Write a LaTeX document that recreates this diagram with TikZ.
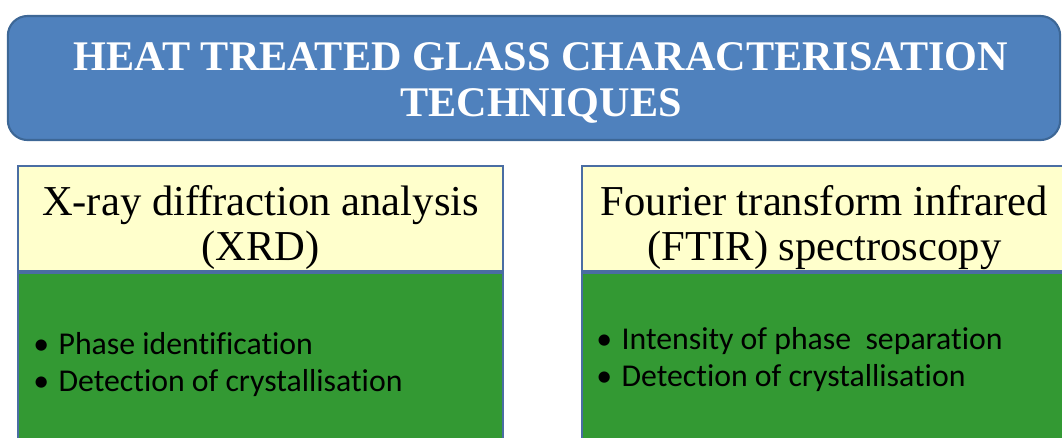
\documentclass[tikz,border=0pt]{standalone}
\usepackage{fontspec}
\setmainfont{Liberation Serif}
\newfontfamily\listfont[Ligatures=CommonOff]{Carlito}
\usetikzlibrary{positioning}

\definecolor{bannerblue}{HTML}{4F81BD}
\definecolor{bannerline}{HTML}{3D6796}
\definecolor{boxline}{HTML}{4A6DA3}
\definecolor{headfill}{HTML}{FFFFCC}
\definecolor{listfill}{HTML}{339933}

\begin{document}
\begin{tikzpicture}[x=0.025cm, y=-0.025cm,
  banner/.style={draw=bannerline, line width=1.5pt, fill=bannerblue, rounded corners=14pt,
    minimum width=26.3cm, minimum height=3.1cm},
  bannertext/.style={text=white, align=center, inner sep=0pt,
    font=\fontsize{30}{33}\selectfont\bfseries},
  headbox/.style={draw=boxline, line width=1.5pt, fill=headfill, inner sep=0pt,
    minimum width=12.125cm, minimum height=2.625cm},
  headtext/.style={align=center, inner sep=0pt, font=\fontsize{30.3}{32}\selectfont},
  listbox/.style={draw=boxline, line width=1.5pt, fill=listfill, inner sep=0pt,
    minimum width=12.125cm, minimum height=4.6cm},
  items/.style={inner sep=0pt, align=left, font=\listfont\fontsize{22.6}{26.2}\selectfont}]

  \useasboundingbox (0,0) rectangle (1062,437);
  \clip (0,0) rectangle (1062,437);

  % title banner
  \node[banner] (title) at (534,78) {};
  \node[bannertext] (titletext) at (541,83) {HEAT TREATED GLASS CHARACTERISATION\\TECHNIQUES};

  % XRD
  \node[listbox, anchor=north] (xrdlist) at (260.5,272) {};
  \node[headbox, above=0pt of xrdlist] (xrdhead) {};
  \node[headtext] (xrdtitle) at (260.5,227.5) {X-ray diffraction analysis\\(XRD)};
  \node[items, anchor=base west] (xrditems) at (33,391)
    {\makebox[18pt][l]{\textbullet}Phase identification\\
     \makebox[18pt][l]{\textbullet}Detection of crystallisation};

  % FTIR
  \node[listbox, anchor=north] (ftirlist) at (824.5,272) {};
  \node[headbox, above=0pt of ftirlist] (ftirhead) {};
  \node[headtext] (ftirtitle) at (824.5,227.5) {Fourier transform infrared\\(FTIR) spectroscopy};
  \node[items, anchor=base west] (ftiritems) at (596,386)
    {\makebox[18pt][l]{\textbullet}Intensity of phase\ \ separation\\
     \makebox[18pt][l]{\textbullet}Detection of crystallisation};
\end{tikzpicture}
\end{document}
